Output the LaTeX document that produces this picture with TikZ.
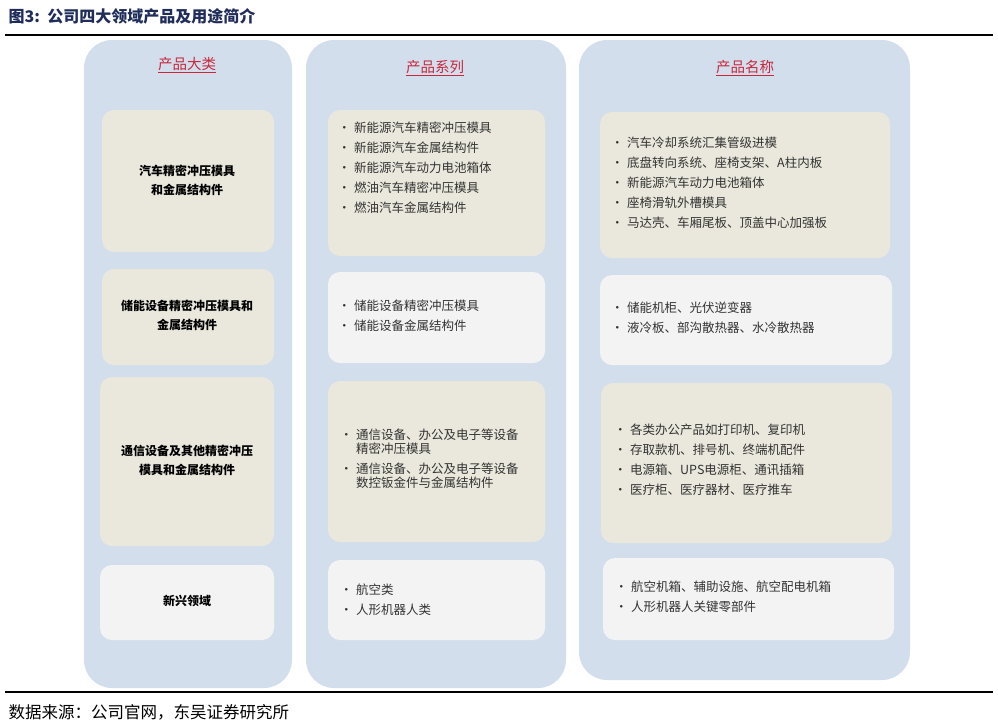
\documentclass[tikz,border=0pt]{standalone}
\usepackage{fontspec}
\setmainfont{Noto Sans CJK SC}
\definecolor{colblue}{HTML}{D3DEED}
\definecolor{beige}{HTML}{EAE8DC}
\definecolor{greyw}{HTML}{F3F3F3}
\definecolor{navy}{HTML}{1F2D5A}
\definecolor{hred}{HTML}{C8283C}
\definecolor{txt}{HTML}{333333}
\newcommand{\itm}[1]{\makebox[16pt][l]{•}#1}
\tikzset{
  colbox/.style={fill=colblue, draw=none, rounded corners=28pt},
  bbox/.style={fill=beige, draw=none, rounded corners=12pt},
  gbox/.style={fill=greyw, draw=none, rounded corners=12pt},
  head/.style={text=hred, font=\fontsize{14.5}{16}\selectfont},
  cat/.style={text=black, font=\bfseries\fontsize{12}{19}\selectfont, align=center},
  lst/.style={text=txt, font=\fontsize{12.5}{14}\selectfont, align=left, anchor=west, inner sep=0pt}
}
\begin{document}
\begin{tikzpicture}[x=1pt,y=-1pt]
\useasboundingbox (0,0) rectangle (998,726);
\fill[white] (0,0) rectangle (998,726);
\node[anchor=west, text=navy, font=\bfseries\fontsize{16}{18}\selectfont] (title) at (5,16) {图3:\, 公司四大领域产品及用途简介};
\draw[line width=1.2pt] (5,35) -- (993,35);
\draw[line width=1.2pt] (5,692) -- (993,692);
\node[anchor=west, font=\fontsize{16.5}{18}\selectfont] (src) at (5,712) {数据来源：公司官网，东吴证券研究所};
% columns
\path[colbox] (84,40) rectangle (292,688);
\path[colbox] (306,40) rectangle (566,688);
\path[colbox] (579,40) rectangle (910,680);
\node[head] (h1) at (187,65) {\underline{产品大类}};
\node[head] (h2) at (435,68) {\underline{产品系列}};
\node[head] (h3) at (745,68) {\underline{产品名称}};
% col1
\path[bbox] (102,110) rectangle (274,252);
\path[bbox] (102,269) rectangle (274,365);
\path[bbox] (100,377) rectangle (274,546);
\path[gbox] (100,565) rectangle (274,640);
\node[cat] (c1) at (187,180) {汽车精密冲压模具\\和金属结构件};
\node[cat] (c2) at (187,315) {储能设备精密冲压模具和\\金属结构件};
\node[cat] (c3) at (187,460) {通信设备及其他精密冲压\\模具和金属结构件};
\node[cat] (c4) at (187,601) {新兴领域};
% col2
\path[bbox] (328,110) rectangle (545,256);
\path[gbox] (328,272) rectangle (545,363);
\path[bbox] (328,381) rectangle (545,542);
\path[gbox] (328,560) rectangle (545,640);
\node[lst] (s1) at (338,168) {\itm{新能源汽车精密冲压模具}\\[6pt]\itm{新能源汽车金属结构件}\\[6pt]\itm{新能源汽车动力电池箱体}\\[6pt]\itm{燃油汽车精密冲压模具}\\[6pt]\itm{燃油汽车金属结构件}};
\node[lst] (s2) at (338,316) {\itm{储能设备精密冲压模具}\\[6pt]\itm{储能设备金属结构件}};
\node[lst] (s3) at (340,459) {\itm{通信设备、办公及电子等设备}\\\hspace*{16pt}精密冲压模具\\[6pt]\itm{通信设备、办公及电子等设备}\\\hspace*{16pt}数控钣金件与金属结构件};
\node[lst] (s4) at (340,600) {\itm{航空类}\\[6pt]\itm{人形机器人类}};
% col3
\path[bbox] (600,112) rectangle (890,258);
\path[gbox] (600,275) rectangle (892,365);
\path[bbox] (601,383) rectangle (892,543);
\path[gbox] (603,558) rectangle (894,640);
\node[lst] (n1) at (611,183) {\itm{汽车冷却系统汇集管级进模}\\[6pt]\itm{底盘转向系统、座椅支架、A柱内板}\\[6pt]\itm{新能源汽车动力电池箱体}\\[6pt]\itm{座椅滑轨外槽模具}\\[6pt]\itm{马达壳、车厢尾板、顶盖中心加强板}};
\node[lst] (n2) at (611,318) {\itm{储能机柜、光伏逆变器}\\[6pt]\itm{液冷板、部沟散热器、水冷散热器}};
\node[lst] (n3) at (614,460) {\itm{各类办公产品如打印机、复印机}\\[6pt]\itm{存取款机、排号机、终端机配件}\\[6pt]\itm{电源箱、UPS电源柜、通讯插箱}\\[6pt]\itm{医疗柜、医疗器材、医疗推车}};
\node[lst] (n4) at (615,597) {\itm{航空机箱、辅助设施、航空配电机箱}\\[6pt]\itm{人形机器人关键零部件}};
\end{tikzpicture}
\end{document}
